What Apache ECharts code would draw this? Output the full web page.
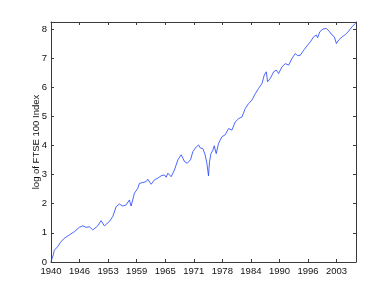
<!DOCTYPE html>
<html>
<head>
<meta charset="utf-8">
<script src="https://cdn.jsdelivr.net/npm/echarts@6/dist/echarts.min.js"></script>
<style>
html,body{margin:0;padding:0;background:#fff;}
#chart{width:392px;height:295px;}
</style>
</head>
<body>
<div id="chart"></div>
<script>
// Time (fractional years) and log of FTSE 100 index values
const years = [
  1940.60,1940.82,1941.10,1941.32,1941.70,1942.07,1942.79,1943.51,1944.61,1945.71,
  1946.80,1947.55,1948.27,1948.99,1949.74,1950.83,1951.56,1952.28,1952.65,1953.38,
  1954.12,1954.85,1955.57,1956.31,1957.04,1957.76,1958.13,1958.86,1959.60,1959.95,
  1960.70,1961.42,1961.79,1962.52,1963.24,1963.98,1964.71,1965.43,1965.80,1966.18,
  1966.53,1966.90,1967.62,1968.37,1969.09,1969.81,1970.41,1971.13,1971.65,1972.38,
  1972.88,1973.25,1973.85,1974.35,1974.72,1975.07,1975.29,1975.60,1976.04,1976.32,
  1976.76,1977.26,1978.01,1978.73,1979.46,1980.20,1980.92,1981.65,1982.39,1983.12,
  1983.84,1984.58,1985.31,1986.03,1986.78,1987.28,1987.72,1988.00,1988.59,1989.32,
  1989.91,1990.41,1991.16,1991.88,1992.61,1993.35,1994.07,1994.58,1995.17,1995.89,
  1996.64,1997.36,1998.08,1998.68,1998.96,1999.40,2000.14,2000.87,2001.59,2002.12,
  2002.62,2003.06,2003.56,2004.31,2005.03,2005.76,2006.50,2007.22,2007.35
];
const logIndex = [
  0.00,0.12,0.24,0.40,0.45,0.53,0.70,0.81,0.93,1.04,
  1.19,1.24,1.19,1.21,1.10,1.24,1.42,1.24,1.19,1.39,
  1.56,1.90,1.99,1.92,1.96,2.13,1.92,2.36,2.53,2.70,
  2.73,2.76,2.84,2.67,2.82,2.88,2.96,2.99,2.91,3.05,
  3.07,2.93,3.16,3.51,3.68,3.45,3.39,3.51,3.79,3.95,
  4.02,3.92,3.89,3.67,3.38,2.96,3.44,3.72,3.84,3.99,
  3.72,4.07,4.30,4.37,4.58,4.53,4.81,4.92,4.98,5.27,
  5.44,5.56,5.78,5.96,6.13,6.42,6.53,6.19,6.30,6.53,
  6.59,6.47,6.70,6.81,6.76,6.99,7.16,7.08,7.10,7.27,
  7.42,7.56,7.73,7.79,7.70,7.90,8.00,8.02,7.90,7.79,
  7.73,7.50,7.62,7.73,7.81,7.93,8.08,8.19,8.24
];
const xTickLabels = ['1940','1946','1953','1959','1965','1971','1978','1984','1990','1996','2003'];
const yTickLabels = ['0','1','2','3','4','5','6','7','8'];

const xMin = 1940.6, xStep = 6.25, xMax = 2007.35;
const yMin = 0, yStep = 1, yMax = 8.24;

const font = {fontFamily:'Liberation Sans, Arial, sans-serif', fontSize:9.5, color:'#111'};
const axisLineStyle = {color:'#3a3a3a', width:1};

function xLabel(v){
  const k = Math.round((v - xMin)/xStep);
  if (Math.abs(v - (xMin + k*xStep)) > 1e-6 || k < 0 || k >= xTickLabels.length) return '';
  return xTickLabels[k];
}
function yLabel(v){
  const k = Math.round((v - yMin)/yStep);
  if (Math.abs(v - (yMin + k*yStep)) > 1e-6 || k < 0 || k >= yTickLabels.length) return '';
  return yTickLabels[k];
}

const chart = echarts.init(document.getElementById('chart'), null, {renderer:'canvas'});
const baseX = {type:'value', min:xMin, max:xMax, interval:xStep,
  axisLine:{show:true, onZero:false, lineStyle:axisLineStyle},
  axisTick:{show:true, inside:true, length:3, lineStyle:axisLineStyle},
  splitLine:{show:false}};
const baseY = {type:'value', min:yMin, max:yMax, interval:yStep,
  axisLine:{show:true, onZero:false, lineStyle:axisLineStyle},
  axisTick:{show:true, inside:true, length:3, lineStyle:axisLineStyle},
  splitLine:{show:false}};

chart.setOption({
  animation:false,
  backgroundColor:'#fff',
  grid:{left:51, right:36, top:22, bottom:33, containLabel:false},
  xAxis:[
    Object.assign({}, baseX, {position:'bottom',
      axisLabel:Object.assign({show:true, margin:4, formatter:xLabel, showMaxLabel:false}, font)}),
    Object.assign({}, baseX, {position:'top', axisLabel:{show:false}})
  ],
  yAxis:[
    Object.assign({}, baseY, {position:'left',
      name:'log of FTSE 100 Index', nameLocation:'middle', nameGap:10, nameRotate:90,
      nameMoveOverlap:false,
      nameTextStyle:Object.assign({}, font, {fontSize:9.5}),
      axisLabel:Object.assign({show:true, margin:4, formatter:yLabel, showMaxLabel:false}, font)}),
    Object.assign({}, baseY, {position:'right', axisLabel:{show:false}})
  ],
  series:[{
    type:'line', xAxisIndex:0, yAxisIndex:0,
    data: years.map((y,i)=>[y, logIndex[i]]),
    showSymbol:false, symbol:'none',
    lineStyle:{color:'#2040ff', width:0.8},
    clip:true
  }]
});
</script>
</body>
</html>
